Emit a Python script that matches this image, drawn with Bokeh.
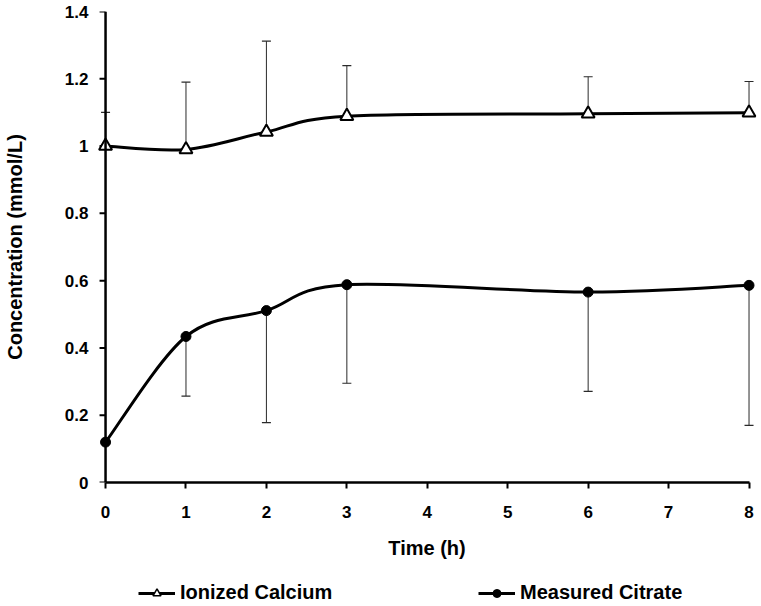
import numpy as np
from bokeh.plotting import figure
from bokeh.layouts import column
from bokeh.models import (ColumnDataSource, Whisker, TeeHead, Legend, LegendItem,
                          FixedTicker, NumeralTickFormatter, Range1d, Span)
from bokeh.embed import file_html
from bokeh.resources import INLINE

# ---- data ----
time_h = [0, 1, 2, 3, 6, 8]
calcium = [1.00, 0.99, 1.042, 1.089, 1.096, 1.099]
calcium_err = [0.10, 0.20, 0.27, 0.15, 0.11, 0.093]
citrate = [0.12, 0.434, 0.511, 0.588, 0.566, 0.586]
citrate_err = [0.0, 0.177, 0.333, 0.293, 0.295, 0.416]
x_ticks = [0, 1, 2, 3, 4, 5, 6, 7, 8]
y_ticks = [0, 0.2, 0.4, 0.6, 0.8, 1.0, 1.2, 1.4]
series_names = ["Ionized Calcium", "Measured Citrate"]

FONT = "Liberation Sans"
PX_PER_X = 80.44  # screen pixels per hour (frame geometry)


def smooth_segments(xs, ys):
    """Bezier control points (Catmull-Rom style smoothing, like a spreadsheet 'smoothed line')."""
    P = np.column_stack([xs, ys]).astype(float)
    n = len(P)
    out = dict(x0=[], y0=[], x1=[], y1=[], cx0=[], cy0=[], cx1=[], cy1=[])
    for i in range(n - 1):
        p0 = P[i - 1] if i > 0 else P[i]
        p1 = P[i]
        p2 = P[i + 1]
        p3 = P[i + 2] if i + 2 < n else P[i + 1]
        c1 = p1 + (p2 - p0) / 6.0
        c2 = p2 - (p3 - p1) / 6.0
        out["x0"].append(p1[0]); out["y0"].append(p1[1])
        out["x1"].append(p2[0]); out["y1"].append(p2[1])
        out["cx0"].append(c1[0]); out["cy0"].append(c1[1])
        out["cx1"].append(c2[0]); out["cy1"].append(c2[1])
    return out


p = figure(width=761, height=570, output_backend="svg", toolbar_location=None,
           x_range=Range1d(-0.1, 8.093), y_range=Range1d(0, 1.4),
           min_border_left=97, min_border_right=5, min_border_top=11, min_border_bottom=88)
p.outline_line_color = None
p.xgrid.visible = False
p.ygrid.visible = False
p.background_fill_color = "white"

# x axis
xa = p.xaxis[0]
xa.ticker = FixedTicker(ticks=x_ticks)
xa.bounds = (0, 8)
xa.axis_line_width = 2.5
xa.axis_line_color = "black"
xa.major_tick_line_width = 2
xa.major_tick_line_color = "black"
xa.major_tick_in = 0
xa.major_tick_out = 6
xa.minor_tick_line_color = None
xa.major_label_text_font = FONT
xa.major_label_text_font_style = "bold"
xa.major_label_text_font_size = "17px"
xa.major_label_text_color = "black"
xa.major_label_standoff = 17
xa.axis_label = "Time (h)"
xa.axis_label_text_font = FONT
xa.axis_label_text_font_style = "bold"
xa.axis_label_text_font_size = "20px"
xa.axis_label_text_color = "black"
xa.axis_label_standoff = 16

# y axis: labels and title from the axis; its line and ticks drawn at x = 0
ya = p.yaxis[0]
ya.ticker = FixedTicker(ticks=y_ticks)
ya.formatter = NumeralTickFormatter(format="0.[0]")
ya.axis_line_color = None
ya.major_tick_line_color = None
ya.minor_tick_line_color = None
ya.major_tick_in = 0
ya.major_tick_out = 0
ya.major_label_standoff = 9
ya.major_label_text_font = FONT
ya.major_label_text_font_style = "bold"
ya.major_label_text_font_size = "17px"
ya.major_label_text_color = "black"
ya.axis_label = "Concentration (mmol/L)"
ya.axis_label_text_font = FONT
ya.axis_label_text_font_style = "bold"
ya.axis_label_text_font_size = "20px"
ya.axis_label_text_color = "black"
ya.axis_label_standoff = 36

p.add_layout(Span(location=0, dimension="height", line_color="black", line_width=2.5))
tick_len = 6 / PX_PER_X
p.segment(x0=[-tick_len] * len(y_ticks), x1=[0] * len(y_ticks), y0=y_ticks, y1=y_ticks,
          line_color="black", line_width=2)

# error bars (calcium: upward, citrate: downward)
ca_src = ColumnDataSource(dict(x=time_h, y=calcium,
                               upper=[v + e for v, e in zip(calcium, calcium_err)]))
ci_src = ColumnDataSource(dict(x=time_h, y=citrate,
                               lower=[v - e for v, e in zip(citrate, citrate_err)]))

EB = "#2a2a2a"
w_ca = Whisker(source=ca_src, base="x", lower="y", upper="upper", dimension="height",
               line_color=EB, line_width=1, lower_head=None,
               upper_head=TeeHead(size=9, line_color=EB, line_width=1.2), level="underlay")
w_ci = Whisker(source=ci_src, base="x", lower="lower", upper="y", dimension="height",
               line_color=EB, line_width=1, upper_head=None,
               lower_head=TeeHead(size=9, line_color=EB, line_width=1.2), level="underlay")
p.add_layout(w_ca)
p.add_layout(w_ci)

# smoothed lines
p.bezier(source=ColumnDataSource(smooth_segments(time_h, calcium)),
         x0="x0", y0="y0", x1="x1", y1="y1", cx0="cx0", cy0="cy0", cx1="cx1", cy1="cy1",
         line_color="black", line_width=3)
p.bezier(source=ColumnDataSource(smooth_segments(time_h, citrate)),
         x0="x0", y0="y0", x1="x1", y1="y1", cx0="cx0", cy0="cy0", cx1="cx1", cy1="cy1",
         line_color="black", line_width=3)

p.scatter(x="x", y="y", source=ca_src, marker="triangle", size=13,
          fill_color="white", line_color="black", line_width=2)
p.scatter(x="x", y="y", source=ci_src, marker="circle", size=10,
          fill_color="black", line_color="black", line_width=1)

# ---- legend strip below the chart (placeholder renderers carry only the styles) ----
lg = figure(width=761, height=36, output_backend="svg", toolbar_location=None,
            x_axis_location=None, y_axis_location=None,
            x_range=Range1d(0, 1), y_range=Range1d(0, 1),
            min_border_left=0, min_border_right=0, min_border_top=0, min_border_bottom=0)
lg.outline_line_color = None
lg.xgrid.visible = False
lg.ygrid.visible = False
nan_pt = dict(x=[np.nan], y=[np.nan])
l_ca = lg.line(x="x", y="y", source=ColumnDataSource(nan_pt), line_color="black", line_width=3)
m_ca = lg.scatter(x="x", y="y", source=ColumnDataSource(nan_pt), marker="triangle", size=11,
                  fill_color="white", line_color="black", line_width=1.5)
l_ci = lg.line(x="x", y="y", source=ColumnDataSource(nan_pt), line_color="black", line_width=3)
m_ci = lg.scatter(x="x", y="y", source=ColumnDataSource(nan_pt), marker="circle", size=9,
                  fill_color="black", line_color="black", line_width=1)

legend = Legend(items=[LegendItem(label=series_names[0], renderers=[l_ca, m_ca]),
                       LegendItem(label=series_names[1], renderers=[l_ci, m_ci])],
                orientation="horizontal", location=(41, 2), padding=0, margin=0,
                spacing=103, glyph_width=37, glyph_height=20, label_height=20,
                label_width=195, label_standoff=5, border_line_color=None,
                background_fill_alpha=0,
                label_text_font=FONT, label_text_font_style="bold",
                label_text_font_size="20px", label_text_color="black")
lg.add_layout(legend)

open("out.html", "w").write(file_html(column(p, lg, spacing=0), INLINE))
